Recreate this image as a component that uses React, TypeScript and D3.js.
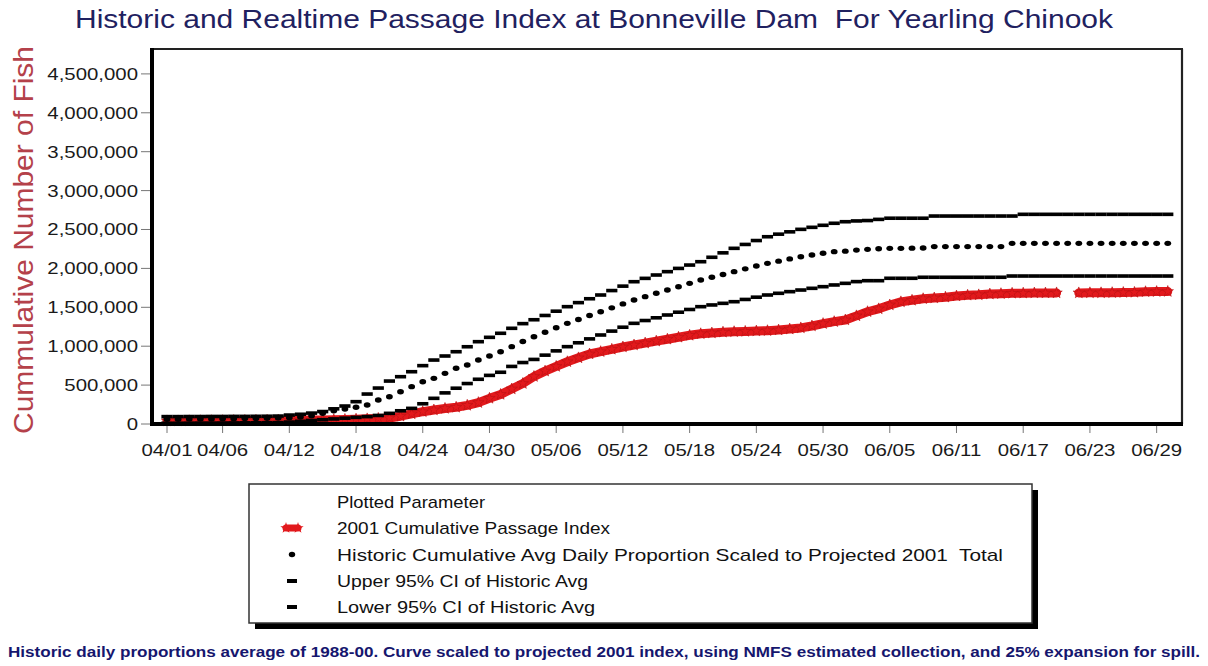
import React from "react";
import * as d3 from "d3";

// ---------- data ----------
const startDay = "2001-04-01";
const dayCount = 91; // 04/01 .. 06/30

const tickLabels = ["04/01", "04/06", "04/12", "04/18", "04/24", "04/30", "05/06", "05/12", "05/18", "05/24", "05/30", "06/05", "06/11", "06/17", "06/23", "06/29"];
const yTicks = [0, 500000, 1000000, 1500000, 2000000, 2500000, 3000000, 3500000, 4000000, 4500000];

const upperCI = [
  95000, 95000, 96000, 96000, 97000, 97000, 98000, 98000, 99000, 100000, 102000,
  115000, 125000, 140000, 160000, 195000, 231000, 287000, 385000, 462000, 552000,
  608000, 672000, 750000, 822000, 874000, 929000, 993000, 1058000, 1114000, 1166000,
  1230000, 1290000, 1340000, 1395000, 1450000, 1508000, 1560000, 1610000, 1658000, 1715000,
  1772000, 1829000, 1872000, 1915000, 1958000, 2000000, 2043000, 2086000, 2143000, 2200000,
  2258000, 2308000, 2358000, 2407000, 2440000, 2470000, 2502000, 2528000, 2554000, 2580000,
  2600000, 2610000, 2615000, 2630000, 2645000, 2645000, 2645000, 2645000,
  2673000, 2673000, 2673000, 2673000, 2673000, 2673000, 2673000, 2673000,
  2695000, 2695000, 2695000, 2695000, 2695000, 2695000, 2695000, 2695000, 2695000, 2695000, 2695000, 2695000, 2695000, 2695000,
];

const historicAvg = [
  60000, 62000, 63000, 64000, 65000, 66000, 68000, 70000, 72000, 74000, 76000,
  80000, 90000, 105000, 137000, 170000, 193000, 215000, 244000, 308000, 351000,
  415000, 480000, 544000, 587000, 651000, 716000, 758000, 823000, 874000, 929000,
  994000, 1060000, 1122000, 1180000, 1237000, 1294000, 1344000, 1394000, 1443000, 1493000,
  1544000, 1594000, 1637000, 1680000, 1722000, 1765000, 1808000, 1851000, 1887000, 1922000,
  1958000, 1994000, 2030000, 2065000, 2093000, 2122000, 2150000, 2172000, 2194000, 2215000,
  2222000, 2235000, 2245000, 2252000, 2258000, 2258000, 2260000, 2262000,
  2280000, 2280000, 2280000, 2280000, 2280000, 2280000, 2280000,
  2322000, 2322000, 2322000, 2322000, 2322000, 2322000, 2322000, 2322000, 2322000, 2322000, 2322000, 2322000, 2322000, 2322000, 2322000,
];

const lowerCI = [
  10000, 10000, 11000, 12000, 12000, 13000, 14000, 15000, 16000, 17000, 18000,
  25000, 35000, 45000, 55000, 65000, 75000, 85000, 95000, 110000, 137000,
  170000, 201000, 260000, 330000, 400000, 460000, 520000, 575000, 625000, 665000,
  740000, 790000, 830000, 885000, 940000, 994000, 1044000, 1094000, 1144000, 1194000,
  1244000, 1294000, 1330000, 1365000, 1401000, 1437000, 1472000, 1508000, 1530000, 1551000,
  1572000, 1601000, 1630000, 1658000, 1680000, 1701000, 1722000, 1744000, 1765000, 1787000,
  1808000, 1830000, 1842000, 1842000, 1873000, 1873000, 1873000,
  1886000, 1886000, 1886000, 1886000, 1886000, 1886000, 1886000, 1886000,
  1902000, 1902000, 1902000, 1902000, 1902000, 1902000, 1902000, 1902000, 1902000, 1902000, 1902000, 1902000, 1902000, 1902000, 1902000,
];

const passage2001: (number | null)[] = [
  40000, 40000, 41000, 42000, 42000, 43000, 44000, 45000, 46000, 47000, 48000, 49000, 50000,
  50000, 52000, 55000, 58000, 62000, 66000, 72000, 77000,
  100000, 130000, 158000, 180000, 200000, 215000, 240000, 275000, 330000, 380000,
  450000, 520000, 610000, 680000, 740000, 800000, 850000, 900000, 930000, 960000,
  990000, 1015000, 1040000, 1065000, 1090000, 1115000, 1140000, 1160000, 1170000, 1180000,
  1186000, 1190000, 1195000, 1199000, 1208000, 1220000, 1235000, 1260000, 1290000, 1315000,
  1337000, 1390000, 1443000, 1480000, 1530000, 1570000, 1590000, 1610000, 1620000, 1630000,
  1645000, 1655000, 1660000, 1670000, 1675000, 1680000, 1682000, 1684000, 1684000, 1685000,
  null, 1685000, 1686000, 1686000, 1688000, 1690000, 1692000, 1700000, 1702000, 1703000,
];

const legendLabels = [
  "Plotted Parameter",
  "2001 Cumulative Passage Index",
  "Historic Cumulative Avg Daily Proportion Scaled to Projected 2001  Total",
  "Upper 95% CI of Historic Avg",
  "Lower 95% CI of Historic Avg",
];

const titleText = "Historic and Realtime Passage Index at Bonneville Dam  For Yearling Chinook";
const yTitle = "Cummulative Number of Fish";
const footText =
  "Historic daily proportions average of 1988-00. Curve scaled to projected 2001 index, using NMFS estimated collection, and 25% expansion for spill.";

// ---------- layout / style ----------
const W = 1208;
const H = 666;
const plot = { left: 152, right: 1182, top: 49, bottom: 424 };
const FONT = "'Liberation Sans', Arial, Helvetica, sans-serif";
const legendTextWidths = [148, 273, 666, 251, 258];

const parseDay = d3.utcParse("%Y-%m-%d");
const parseTick = d3.utcParse("%m/%d/%Y");
const day0 = parseDay(startDay) as Date;
const dates = d3.utcDay.range(day0, d3.utcDay.offset(day0, dayCount));

const x = d3
  .scaleUtc()
  .domain([new Date(day0.getTime() - 1.35 * 864e5), new Date(day0.getTime() + 91.28 * 864e5)])
  .range([plot.left, plot.right]);
const y = d3.scaleLinear().domain([0, 4820000]).range([plot.bottom, plot.top]);
const fmt = d3.format(",");

const redLine = d3
  .line<number | null>()
  .defined((d) => d != null)
  .x((_, i) => x(dates[i]))
  .y((d) => y(d as number));

const star = d3.symbol().type(d3.symbolStar).size(40)() as string;
const pre = { whiteSpace: "pre" as const };

export default function App() {
  const redPath = redLine(passage2001) as string;
  const dashW = 11.2;
  const dashH = 3.6;
  return (
    <svg
      width={W}
      height={H}
      viewBox={`0 0 ${W} ${H}`}
      style={{ position: "absolute", left: 0, top: 0, background: "#fff" }}
      fontFamily={FONT}
    >
      <rect x={0} y={0} width={W} height={H} fill="#fff" />

      {/* title */}
      <text
        x={594}
        y={28}
        fontSize={26}
        fill="#1f2160"
        textAnchor="middle"
        textLength={1038}
        lengthAdjust="spacingAndGlyphs"
        style={pre}
      >
        {titleText}
      </text>

      {/* y title */}
      <text
        transform={`translate(33, 240) rotate(-90)`}
        fontSize={28}
        fill="#b4414a"
        textAnchor="middle"
        textLength={388}
        lengthAdjust="spacingAndGlyphs"
      >
        {yTitle}
      </text>

      {/* 2001 passage (red) */}
      <g>
        <path d={redPath} fill="none" stroke="#e2191c" strokeWidth={9} strokeLinejoin="round" strokeLinecap="round" />
        {passage2001.map((v, i) =>
          v == null ? null : (
            <path
              key={"r" + i}
              d={star}
              transform={`translate(${x(dates[i])},${y(v)})`}
              fill="#e2191c"
              stroke="#b81013"
              strokeWidth={0.6}
            />
          )
        )}
      </g>

      {/* upper CI dashes */}
      <g fill="#000">
        {upperCI.map((v, i) => (
          <rect key={"u" + i} x={x(dates[i]) - dashW / 2} y={y(v) - dashH / 2} width={dashW} height={dashH} />
        ))}
      </g>
      {/* lower CI dashes */}
      <g fill="#000">
        {lowerCI.map((v, i) => (
          <rect key={"l" + i} x={x(dates[i]) - dashW / 2} y={y(v) - dashH / 2} width={dashW} height={dashH} />
        ))}
      </g>
      {/* historic avg dots */}
      <g fill="#000">
        {historicAvg.map((v, i) => (
          <ellipse key={"h" + i} cx={x(dates[i])} cy={y(v)} rx={3.4} ry={2.7} />
        ))}
      </g>

      {/* frame */}
      <line x1={plot.left} x2={plot.right + 1} y1={plot.top} y2={plot.top} stroke="#222" strokeWidth={2} />
      <line x1={plot.right} x2={plot.right} y1={plot.top} y2={plot.bottom} stroke="#222" strokeWidth={2.2} />
      <line x1={plot.left} x2={plot.left} y1={plot.top - 1} y2={plot.bottom + 2} stroke="#000" strokeWidth={4} />
      <line x1={plot.left - 2} x2={plot.right + 1} y1={plot.bottom} y2={plot.bottom} stroke="#000" strokeWidth={4} />

      {/* y axis ticks */}
      {yTicks.map((t) => (
        <g key={"yt" + t}>
          <line x1={141} x2={150} y1={y(t)} y2={y(t)} stroke="#777" strokeWidth={1} />
          <text
            transform={`translate(138, ${y(t) + 6}) scale(1.2,1)`}
            fontSize={17}
            fill="#1a1a1a"
            textAnchor="end"
          >
            {fmt(t)}
          </text>
        </g>
      ))}

      {/* x axis ticks */}
      {tickLabels.map((lab) => {
        const d = parseTick(lab + "/2001") as Date;
        const px = x(d);
        return (
          <g key={"xt" + lab}>
            <line x1={px} x2={px} y1={426} y2={433} stroke="#777" strokeWidth={1} />
            <text transform={`translate(${px}, 456) scale(1.2,1)`} fontSize={17} fill="#1a1a1a" textAnchor="middle">
              {lab}
            </text>
          </g>
        );
      })}

      {/* legend */}
      <g>
        <rect x={255} y={490} width={783} height={139} fill="#000" />
        <rect x={249} y={484} width={783} height={139} fill="#fff" stroke="#333" strokeWidth={1.5} />
        {legendLabels.map((lab, i) => (
          <text
            key={"lg" + i}
            x={337}
            y={508 + i * 26.3}
            fontSize={17}
            fill="#111"
            textLength={legendTextWidths[i]}
            lengthAdjust="spacingAndGlyphs"
            style={pre}
          >
            {lab}
          </text>
        ))}
        {/* symbols */}
        <line x1={286} x2={298} y1={528} y2={528} stroke="#e2191c" strokeWidth={7} strokeLinecap="round" />
        <path d={star} transform="translate(286,528)" fill="#e2191c" />
        <path d={star} transform="translate(298,528)" fill="#e2191c" />
        <ellipse cx={292} cy={554.5} rx={3.2} ry={2.7} fill="#000" />
        <rect x={287} y={579} width={10} height={4} fill="#000" />
        <rect x={287} y={605} width={10} height={4} fill="#000" />
      </g>

      {/* footnote */}
      <text
        x={8}
        y={657}
        fontSize={14}
        fontWeight={700}
        fill="#16166e"
        textLength={1192}
        lengthAdjust="spacingAndGlyphs"
      >
        {footText}
      </text>
    </svg>
  );
}
